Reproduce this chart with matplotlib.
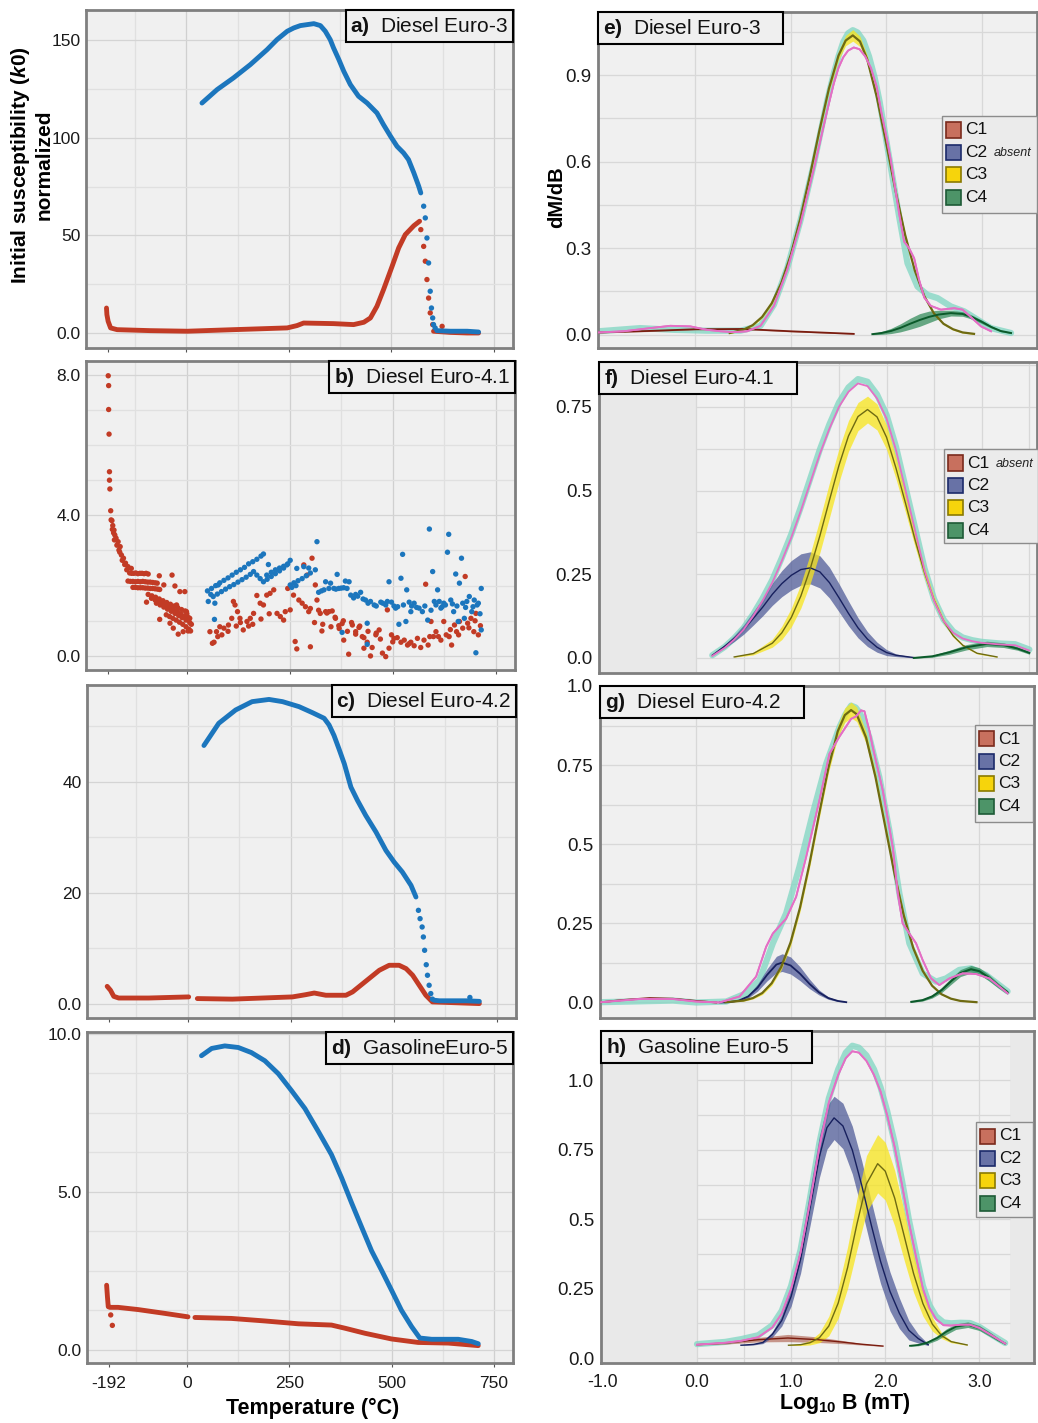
import numpy as np
import matplotlib
matplotlib.use("Agg")
import matplotlib.pyplot as plt
from matplotlib.patches import Rectangle

plt.rcParams['font.family'] = ['Liberation Sans', 'DejaVu Sans']
plt.rcParams['mathtext.fontset'] = 'custom'
plt.rcParams['mathtext.rm'] = 'Liberation Sans'
plt.rcParams['mathtext.it'] = 'Liberation Sans:italic'
plt.rcParams['mathtext.bf'] = 'Liberation Sans:bold'
plt.rcParams['mathtext.bfit'] = 'Liberation Sans:italic:bold'

BLUE = '#1c76bd'
RED = '#c23b25'

# ---------------- left column: k-T curves (temperature in degC, k normalized)
# a) Diesel Euro-3
a_blue_T = [38, 75, 115, 156, 197, 221, 246, 262, 278, 311, 327, 339, 351, 359, 372, 384, 400, 420, 441, 465, 481, 498, 514, 530, 542, 555, 567, 572]
a_blue_k = [117.9, 124.8, 130.8, 137.6, 145.3, 150.4, 154.7, 156.4, 157.6, 158.6, 157.6, 154.7, 150.4, 146.2, 140.2, 134.2, 127.4, 121.4, 117.9, 112.8, 106.8, 100.9, 95.7, 92.3, 88.9, 82.1, 75.2, 71.8]
a_blue_drop_T = [579, 583, 587, 591, 595, 598, 601, 603, 607]
a_blue_drop_k = [65.0, 59.0, 48.7, 35.9, 21.4, 12.8, 7.7, 4.3, 2.6]
a_blue_end_T = [611, 644, 685, 713]
a_blue_end_k = [1.2, 0.9, 0.9, 0.5]
a_red_T = [-195, -194, -191, -185, -169, -88, 2, 115, 246, 270, 286, 359, 408, 433, 449, 465, 481, 502, 518, 534, 555, 569]
a_red_k = [12.8, 9.4, 6.0, 2.6, 1.7, 1.2, 0.9, 1.7, 2.6, 3.8, 5.1, 4.8, 4.3, 5.5, 7.7, 13.7, 22.2, 34.2, 43.6, 50.4, 55.0, 57.3]
a_red_drop_T = [572, 579, 583, 587, 591, 595, 601, 624]
a_red_drop_k = [53.0, 44.4, 36.8, 27.4, 17.9, 10.3, 4.3, 3.4]
a_red_end_T = [603, 644, 685, 713]
a_red_end_k = [0.9, 0.3, 0.0, 0.0]

# b) Diesel Euro-4.1 (noisy)
b_red_T = [-191, -190, -190, -189, -188, -188, -187, -185,
           -184, -182, -181, -180, -178, -177, -176, -175, -172, -170, -167, -165, -163, -162, -159, -157, -154, -151, -149, -146, -143, -135,
           -139, -134, -129, -124, -119, -114, -109, -104, -99, -94,
           -143, -137, -131, -125, -119, -113, -107, -101, -95, -89, -83, -77, -72,
           -131, -125, -119, -113, -107, -101, -95, -89, -83, -77, -71, -66,
           -94, -85, -76, -67, -58, -49, -40, -31, -22, -13, -4, -1,
           -86, -77, -68, -59, -50, -41, -32, -23, -14, -5, 4, 7,
           -74, -65, -56, -47, -38, -29, -20, -11, -2, 7, 11,
           -50, -42, -34, -26, -18, -10, -2, 5, 9,
           -98, -67, -56, -36, -29, -66, -41, -33, -21, -9, -5, -17, 3, -12, 0, -25,
           56, 62, 66, 72, 80, 90, 101, 109, 117, 113, 123, 129, 137, 146, 154, 162, 170, 178, 186, 194, 202, 211, 219, 227, 235, 239, 245, 251,
           259, 263, 267, 272, 280, 284, 292, 296, 300, 304, 312, 316, 324, 328, 337, 345, 353, 361, 369, 377, 381, 393, 402, 410, 418, 426, 430,
           438, 446, 450, 459, 467, 475, 483, 487, 491, 497, 503, 511, 520, 528, 536, 544, 552, 560, 568, 576, 580, 586, 593, 599, 605, 611, 617,
           624, 630, 637, 643, 650, 655, 662, 670, 676, 682, 690, 697, 702, 708, 713,
           288, 300, 320, 340, 360, 380, 400, 420, 440, 460, 310, 330, 350, 370, 390, 410, 430, 470, 500, 540, 590, 640, 660, 685, 700,
           75, 85, 100, 120, 130, 150, 160, 180, 200]
b_red_k = [7.97, 7.69, 7.01, 6.31, 5.24, 5.0, 4.75, 4.13,
           3.87, 3.85, 3.6, 3.71, 3.5, 3.58, 3.3, 3.44, 3.35, 3.15, 3.25, 3.01, 2.95, 3.11, 2.87, 2.72, 2.78, 2.6, 2.64, 2.45, 2.54, 2.49,
           2.36, 2.35, 2.35, 2.36, 2.34, 2.35, 2.35, 2.34, 2.35, 2.33,
           2.13, 2.12, 2.12, 2.11, 2.12, 2.11, 2.12, 2.11, 2.10, 2.10, 2.09, 2.08, 2.07,
           1.95, 1.95, 1.94, 1.94, 1.94, 1.93, 1.93, 1.92, 1.92, 1.91, 1.90, 1.89,
           1.75, 1.71, 1.67, 1.62, 1.57, 1.52, 1.47, 1.42, 1.37, 1.32, 1.28, 1.26,
           1.64, 1.59, 1.54, 1.48, 1.43, 1.37, 1.31, 1.25, 1.19, 1.13, 1.09, 1.07,
           1.50, 1.45, 1.39, 1.33, 1.27, 1.21, 1.15, 1.09, 1.02, 0.95, 0.90,
           1.17, 1.12, 1.07, 1.02, 0.96, 0.90, 0.83, 0.76, 0.71,
           1.53, 2.28, 2.02, 2.30, 1.99, 1.04, 0.93, 0.79, 0.62, 0.69, 1.83, 1.83, 0.71, 1.10, 1.20, 1.45,
           0.69, 0.36, 0.39, 0.69, 0.83, 0.79, 0.88, 1.07, 1.45, 1.55, 1.26, 1.07, 0.74, 0.98, 1.07, 1.21, 1.72, 1.50, 1.45, 1.73, 1.78, 1.88, 1.21, 1.12, 1.02, 1.26, 1.92, 1.31,
           1.73, 0.41, 0.20, 1.59, 1.50, 2.59, 2.30, 1.26, 0.26, 2.78, 2.02, 1.59, 1.21, 0.71, 1.26, 1.26, 1.28, 1.07, 0.86, 0.92, 0.45, 0.05, 0.88, 0.69, 0.81, 0.55, 0.22,
           0.39, 0.00, 0.24, 0.60, 0.74, 0.08, -0.02, 1.31, 0.22, 0.60, 0.50, 0.52, 0.39, 0.45, 0.31, 0.39, 0.29, 0.50, 0.24, 0.45, 2.04, 0.31, 0.98, 0.55, 0.69, 0.55, 0.45,
           0.98, 0.60, 0.55, 0.31, 0.88, 0.69, 0.98, 0.79, 2.26, 0.93, 1.07, 0.69, 1.21, 0.60, 0.86,
           1.40, 1.35, 1.30, 1.22, 1.10, 1.00, 0.95, 0.85, 0.70, 0.65, 0.95, 0.90, 0.83, 0.78, 0.70, 0.62, 0.52, 0.48, 0.40, 0.35, 0.55, 0.75, 0.60, 0.80, 1.00,
           0.55, 0.60, 0.70, 0.85, 0.95, 0.85, 0.90, 1.05, 1.20]
b_blue_T = [50, 60, 70, 80, 90, 100, 110, 120, 130, 140, 150, 160, 170, 180, 186,
            64, 74, 84, 94, 104, 114, 124, 134, 144, 154, 162,
            52, 68, 67, 76, 58,
            186, 195, 205, 215, 225, 235, 245, 251, 194, 205, 215, 225, 235, 243, 198, 178, 170,
            251, 260, 270, 280, 290, 300, 312, 267, 284, 296, 255, 265,
            316,
            320, 333, 345, 357, 369, 381, 389, 394, 337, 349, 365, 385, 327, 362, 375,
            398, 410, 422, 434, 446, 455, 471, 483, 491, 497, 507, 515, 520, 524, 532, 534, 540, 552, 564, 572, 585, 589, 597, 601, 609, 617,
            624, 633, 636, 641, 648, 653, 659, 662, 667, 674, 680, 686, 692, 698, 702, 708, 715, 715, 438, 438, 377, 487, 544,
            405, 415, 428, 440, 460, 476, 503, 512, 526, 546, 558, 578, 593, 605, 613, 620, 628, 645, 656, 670, 677, 695, 705, 712]
b_blue_k = [1.85, 1.92, 2.00, 2.08, 2.15, 2.22, 2.30, 2.38, 2.45, 2.52, 2.62, 2.68, 2.75, 2.84, 2.90,
            1.69, 1.76, 1.83, 1.90, 1.97, 2.03, 2.10, 2.17, 2.24, 2.32, 2.40,
            1.55, 1.50, 1.04, 2.02, 1.75,
            2.11, 2.18, 2.26, 2.34, 2.42, 2.50, 2.62, 2.72, 2.30, 2.38, 2.45, 2.50, 2.55, 2.59, 2.60, 2.20, 2.30,
            2.02, 2.08, 2.14, 2.20, 2.28, 2.36, 2.45, 2.49, 2.54, 2.50, 1.95, 2.00,
            3.25,
            1.81, 1.88, 1.92, 1.92, 1.92, 1.94, 1.92, 2.11, 2.11, 2.07, 2.32, 2.13, 1.85, 1.90, 1.93,
            1.73, 1.75, 1.81, 1.59, 1.55, 1.45, 1.53, 1.45, 2.11, 1.53, 1.36, 0.90, 2.21, 2.89, 0.98, 1.88, 1.53, 1.50, 1.36, 1.26, 1.02, 3.61, 2.40, 1.55, 1.88, 1.36,
            1.50, 2.95, 3.46, 1.59, 1.26, 2.33, 0.98, 2.07, 2.78, 1.07, 1.55, 1.69, 1.26, 1.59, 0.09, 1.50, 1.92, 0.74, 0.93, 0.33, 0.67, 1.55, 1.26,
            1.65, 1.70, 1.62, 1.50, 1.42, 1.50, 1.42, 1.40, 1.45, 1.42, 1.38, 1.42, 1.30, 1.45, 1.55, 1.40, 1.45, 1.48, 1.42, 1.50, 1.38, 1.40, 1.45, 1.20]

# c) Diesel Euro-4.2
c_blue_T = [39, 75, 116, 156, 197, 230, 270, 303, 331, 343, 355, 367, 380, 396, 412, 432, 457, 481, 501, 521, 542, 554]
c_blue_k = [46.5, 50.5, 52.9, 54.4, 54.8, 54.4, 53.5, 52.4, 51.4, 50.2, 48.3, 45.9, 43.2, 39.0, 36.6, 33.9, 30.9, 27.6, 25.5, 23.7, 21.3, 19.2]
c_blue_drop_T = [560, 564, 569, 572, 575, 579, 582, 586, 590, 594, 685]
c_blue_drop_k = [16.8, 15.3, 13.8, 12.0, 9.6, 7.0, 5.1, 3.3, 1.8, 0.8, 1.1]
c_blue_end_T = [598, 611, 640, 676, 708]
c_blue_end_k = [0.6, 0.5, 0.5, 0.5, 0.4]
c_red_cold_T = [-196, -188, -180, -168, -95, 2]
c_red_cold_k = [3.1, 2.4, 1.3, 1.0, 1.0, 1.2]
c_red_T = [23, 108, 254, 286, 307, 335, 384, 400, 420, 440, 465, 489, 513, 530, 546, 562, 578, 594, 708]
c_red_k = [0.9, 0.8, 1.2, 1.6, 1.9, 1.5, 1.5, 2.1, 3.3, 4.5, 6.0, 6.9, 6.9, 6.3, 5.1, 3.3, 1.5, 0.3, 0.0]

# d) Gasoline Euro-5
d_blue_T = [35, 60, 92, 125, 157, 190, 223, 255, 288, 321, 353, 378, 402, 427, 451, 476, 500, 524, 549, 569, 598, 663, 696, 712]
d_blue_k = [9.30, 9.53, 9.61, 9.56, 9.40, 9.14, 8.73, 8.20, 7.63, 6.90, 6.17, 5.43, 4.65, 3.87, 3.13, 2.50, 1.88, 1.25, 0.73, 0.37, 0.33, 0.33, 0.26, 0.19]
d_red_cold_T = [-197, -195, -193, -189, -169, -120, -55, 2]
d_red_cold_k = [2.04, 1.67, 1.36, 1.34, 1.34, 1.27, 1.15, 1.04]
d_red_pts_T = [-187, -183]
d_red_pts_k = [1.10, 0.77]
d_red_T = [19, 108, 190, 272, 353, 386, 435, 500, 565, 639, 712]
d_red_k = [1.02, 0.99, 0.91, 0.82, 0.78, 0.68, 0.52, 0.34, 0.23, 0.21, 0.13]

# ---------------- right column: coercivity unmixing (log10 B in mT vs dM/dB)
COMP_NAMES = ['C1', 'C2', 'C3', 'C4']
COMP_FILL = ['#a34a35', '#4b5796', '#f8e51c', '#2f8a58']
COMP_LINE = ['#7a1c0f', '#17205e', '#6e6a12', '#0b5a2a']
COMP_ALPHA = [0.55, 0.72, 0.75, 0.72]
LEG_FILL = ['#c8705e', '#6872a6', '#f6d40c', '#4d9468']
LEG_EDGE = ['#7a2a1c', '#1c2a6a', '#8a7a00', '#1d5a36']

# e) Diesel Euro-3
e_teal_B = [-1.015, -0.578, -0.228, 0.123, 0.473, 0.683, 0.823, 0.963, 1.103, 1.243, 1.383, 1.45, 1.5, 1.55, 1.6, 1.65, 1.7, 1.76, 1.82, 1.88, 1.93, 2.03, 2.135, 2.223, 2.328, 2.433, 2.538, 2.678, 2.818, 2.958, 3.098, 3.308]
e_teal_y = [0.012, 0.023, 0.017, 0.014, 0.014, 0.031, 0.104, 0.231, 0.398, 0.594, 0.813, 0.905, 0.965, 1.015, 1.045, 1.056, 1.048, 1.02, 0.965, 0.89, 0.81, 0.617, 0.41, 0.248, 0.167, 0.138, 0.127, 0.098, 0.081, 0.052, 0.023, 0.006]
e_pink_B = [-1.015, -0.753, -0.473, -0.263, -0.053, 0.123, 0.263, 0.403, 0.543, 0.683, 0.823, 0.963, 1.103, 1.243, 1.383, 1.45, 1.5, 1.55, 1.6, 1.66, 1.72, 1.78, 1.84, 1.9, 1.95, 2.0, 2.048, 2.135, 2.188, 2.24, 2.293, 2.345, 2.398, 2.468, 2.573, 2.713, 2.8, 2.888, 2.993, 3.098]
e_pink_y = [0.008, 0.012, 0.023, 0.031, 0.029, 0.017, 0.012, 0.009, 0.012, 0.031, 0.1, 0.225, 0.387, 0.577, 0.779, 0.87, 0.925, 0.962, 0.985, 0.996, 0.99, 0.965, 0.925, 0.86, 0.77, 0.69, 0.606, 0.421, 0.323, 0.3, 0.265, 0.19, 0.129, 0.1, 0.087, 0.092, 0.087, 0.061, 0.029, 0.012]
e_c1_B = [-1.01, -0.5, 0.0, 0.5, 1.0, 1.66]
e_c1_y = [0.008, 0.013, 0.019, 0.020, 0.012, 0.003]
e_c1_hw = [0.002, 0.002, 0.002, 0.002, 0.002, 0.001]
e_c3_B = [0.36, 0.5, 0.6, 0.7, 0.8, 0.9, 1.0, 1.1, 1.2, 1.3, 1.4, 1.5, 1.575, 1.65, 1.725, 1.8, 1.9, 2.0, 2.1, 2.2, 2.3, 2.4, 2.5, 2.6, 2.7, 2.8, 2.92]
e_c3_y = [0.006, 0.017, 0.033, 0.062, 0.109, 0.179, 0.277, 0.403, 0.551, 0.708, 0.854, 0.968, 1.020, 1.038, 1.017, 0.956, 0.826, 0.664, 0.495, 0.344, 0.222, 0.133, 0.074, 0.038, 0.019, 0.008, 0.003]
e_c3_hw = [0.002, 0.003, 0.003, 0.004, 0.005, 0.006, 0.006, 0.006, 0.007, 0.008, 0.010, 0.014, 0.018, 0.020, 0.018, 0.013, 0.009, 0.007, 0.006, 0.006, 0.005, 0.005, 0.004, 0.003, 0.003, 0.002, 0.002]
e_c4_B = [1.855, 1.95, 2.05, 2.15, 2.25, 2.35, 2.45, 2.55, 2.678, 2.8, 2.9, 3.0, 3.1, 3.2, 3.308]
e_c4_y = [0.002, 0.006, 0.013, 0.024, 0.038, 0.051, 0.062, 0.070, 0.075, 0.072, 0.061, 0.045, 0.027, 0.013, 0.006]
e_c4_hw = [0.002, 0.005, 0.009, 0.014, 0.019, 0.022, 0.020, 0.015, 0.010, 0.008, 0.007, 0.006, 0.004, 0.003, 0.002]

# f) Diesel Euro-4.1
f_teal_B = [0.17, 0.3, 0.4, 0.5, 0.6, 0.7, 0.8, 0.9, 1.0, 1.1, 1.2, 1.3, 1.4, 1.5, 1.6, 1.7, 1.8, 1.9, 2.0, 2.1, 2.2, 2.3, 2.4, 2.5, 2.6, 2.7, 2.8, 2.9, 3.0, 3.2, 3.35, 3.5]
f_teal_y = [0.008, 0.033, 0.059, 0.09, 0.131, 0.179, 0.233, 0.299, 0.37, 0.451, 0.537, 0.623, 0.698, 0.763, 0.808, 0.833, 0.825, 0.787, 0.726, 0.63, 0.509, 0.388, 0.266, 0.175, 0.114, 0.079, 0.061, 0.053, 0.048, 0.043, 0.041, 0.025]
f_pink_B = f_teal_B
f_pink_y = [0.006, 0.03, 0.055, 0.085, 0.125, 0.172, 0.225, 0.29, 0.36, 0.44, 0.525, 0.61, 0.685, 0.75, 0.795, 0.82, 0.812, 0.775, 0.715, 0.62, 0.5, 0.38, 0.26, 0.17, 0.11, 0.075, 0.058, 0.05, 0.045, 0.04, 0.038, 0.022]
f_c2_B = [0.17, 0.3, 0.4, 0.5, 0.6, 0.7, 0.8, 0.9, 1.0, 1.1, 1.2, 1.3, 1.4, 1.5, 1.6, 1.7, 1.8, 1.9, 2.0, 2.1, 2.29]
f_c2_y = [0.008, 0.035, 0.058, 0.085, 0.118, 0.152, 0.19, 0.222, 0.247, 0.264, 0.269, 0.257, 0.225, 0.18, 0.133, 0.09, 0.056, 0.032, 0.016, 0.008, 0.001]
f_c2_hw = [0.001, 0.005, 0.009, 0.014, 0.02, 0.026, 0.033, 0.039, 0.044, 0.047, 0.048, 0.048, 0.046, 0.042, 0.037, 0.03, 0.022, 0.015, 0.009, 0.004, 0.001]
f_c3_B = [0.4, 0.6, 0.8, 0.9, 1.0, 1.1, 1.2, 1.3, 1.4, 1.5, 1.6, 1.7, 1.8, 1.9, 2.0, 2.1, 2.2, 2.3, 2.4, 2.5, 2.6, 2.7, 2.8, 2.95, 3.16]
f_c3_y = [0.003, 0.013, 0.044, 0.075, 0.121, 0.185, 0.268, 0.365, 0.471, 0.575, 0.663, 0.721, 0.742, 0.720, 0.659, 0.566, 0.461, 0.352, 0.254, 0.172, 0.110, 0.066, 0.038, 0.014, 0.003]
f_c3_hw = [0.001, 0.004, 0.012, 0.020, 0.028, 0.036, 0.044, 0.050, 0.052, 0.050, 0.046, 0.042, 0.040, 0.039, 0.036, 0.032, 0.027, 0.021, 0.016, 0.011, 0.007, 0.004, 0.003, 0.002, 0.001]
f_c4_B = [2.286, 2.482, 2.661, 2.839, 3.054, 3.232, 3.375, 3.5]
f_c4_y = [0.0, 0.005, 0.017, 0.032, 0.042, 0.038, 0.028, 0.015]
f_c4_hw = [0.001, 0.003, 0.006, 0.008, 0.008, 0.007, 0.005, 0.004]

# g) Diesel Euro-4.2
g_teal_B = [-1.006, -0.247, 0.0, 0.318, 0.529, 0.671, 0.812, 0.953, 1.094, 1.235, 1.377, 1.518, 1.58, 1.641, 1.69, 1.73, 1.78, 1.835, 1.941, 2.047, 2.153, 2.259, 2.400, 2.541, 2.647, 2.788, 2.912, 3.071, 3.300]
g_teal_y = [0.001, 0.006, 0.0, 0.003, 0.029, 0.071, 0.187, 0.282, 0.429, 0.597, 0.754, 0.870, 0.910, 0.938, 0.932, 0.917, 0.885, 0.838, 0.712, 0.544, 0.345, 0.187, 0.092, 0.066, 0.076, 0.103, 0.108, 0.087, 0.035]
g_pink_B = [-1.006, -0.600, -0.247, 0.0, 0.247, 0.459, 0.635, 0.741, 0.812, 0.953, 1.059, 1.165, 1.306, 1.412, 1.518, 1.641, 1.694, 1.747, 1.783, 1.835, 1.871, 1.977, 2.083, 2.136, 2.188, 2.259, 2.330, 2.400, 2.489, 2.577, 2.683, 2.824, 2.965, 3.106, 3.300]
g_pink_y = [0.001, 0.011, 0.011, 0.003, 0.0, 0.019, 0.082, 0.176, 0.218, 0.265, 0.334, 0.460, 0.639, 0.786, 0.840, 0.896, 0.904, 0.923, 0.920, 0.859, 0.807, 0.670, 0.491, 0.345, 0.250, 0.218, 0.187, 0.134, 0.076, 0.055, 0.076, 0.092, 0.090, 0.076, 0.029]
g_c1_B = [-1.006, -0.777, -0.494, -0.247, 0.0, 0.212]
g_c1_y = [0.001, 0.008, 0.014, 0.012, 0.005, 0.0]
g_c1_hw = [0.001, 0.001, 0.001, 0.001, 0.001, 0.001]
g_c2_B = [0.25, 0.35, 0.45, 0.55, 0.65, 0.75, 0.85, 0.911, 1.0, 1.1, 1.2, 1.3, 1.4, 1.5, 1.59]
g_c2_y = [0.0, 0.001, 0.006, 0.019, 0.047, 0.087, 0.12, 0.126, 0.117, 0.091, 0.059, 0.032, 0.014, 0.005, 0.001]
g_c2_hw = [0.0005, 0.001, 0.002, 0.005, 0.011, 0.019, 0.026, 0.028, 0.027, 0.022, 0.015, 0.008, 0.004, 0.002, 0.0005]
g_c3_B = [0.31, 0.5, 0.6, 0.7, 0.8, 0.9, 1.0, 1.1, 1.2, 1.3, 1.4, 1.5, 1.575, 1.641, 1.7, 1.8, 1.9, 2.0, 2.1, 2.2, 2.3, 2.4, 2.5, 2.6, 2.7, 2.8, 2.97]
g_c3_y = [0.001, 0.006, 0.014, 0.030, 0.061, 0.112, 0.190, 0.300, 0.438, 0.592, 0.740, 0.857, 0.908, 0.924, 0.911, 0.837, 0.712, 0.561, 0.409, 0.275, 0.172, 0.100, 0.053, 0.026, 0.012, 0.005, 0.001]
g_c3_hw = [0.001, 0.002, 0.003, 0.005, 0.007, 0.009, 0.011, 0.013, 0.014, 0.015, 0.016, 0.019, 0.023, 0.025, 0.023, 0.018, 0.015, 0.013, 0.011, 0.009, 0.007, 0.005, 0.003, 0.002, 0.001, 0.001, 0.001]
g_c4_B = [2.28, 2.4, 2.5, 2.6, 2.7, 2.8, 2.912, 3.0, 3.1, 3.2, 3.3]
g_c4_y = [0.002, 0.0075, 0.019, 0.039, 0.067, 0.093, 0.105, 0.099, 0.079, 0.054, 0.032]
g_c4_hw = [0.001, 0.003, 0.005, 0.008, 0.010, 0.011, 0.012, 0.011, 0.010, 0.008, 0.006]

# h) Gasoline Euro-5
h_teal_B = [0.0, 0.3, 0.47, 0.65, 0.8, 0.9, 1.0, 1.1, 1.2, 1.3, 1.4, 1.5, 1.58, 1.65, 1.72, 1.8, 1.88, 1.95, 2.02, 2.1, 2.18, 2.25, 2.33, 2.4, 2.47, 2.54, 2.62, 2.7, 2.8, 2.9, 3.0, 3.1, 3.274]
h_teal_y = [0.05, 0.058, 0.068, 0.082, 0.118, 0.17, 0.26, 0.39, 0.575, 0.775, 0.935, 1.04, 1.1, 1.125, 1.118, 1.09, 1.04, 0.975, 0.89, 0.775, 0.635, 0.5, 0.37, 0.26, 0.19, 0.15, 0.128, 0.125, 0.127, 0.126, 0.112, 0.09, 0.054]
h_pink_B = h_teal_B
h_pink_y = [0.048, 0.055, 0.062, 0.075, 0.11, 0.16, 0.25, 0.38, 0.56, 0.76, 0.92, 1.02, 1.08, 1.105, 1.1, 1.07, 1.02, 0.96, 0.875, 0.76, 0.62, 0.49, 0.36, 0.25, 0.18, 0.14, 0.118, 0.117, 0.12, 0.12, 0.108, 0.088, 0.052]
h_c1_B = [0.0, 0.298, 0.649, 0.965, 1.281, 1.526, 1.737, 1.975]
h_c1_y = [0.048, 0.054, 0.066, 0.072, 0.066, 0.058, 0.050, 0.043]
h_c1_hw = [0.001, 0.004, 0.008, 0.013, 0.010, 0.006, 0.003, 0.001]
h_c2_B = [0.467, 0.6, 0.7, 0.8, 0.9, 1.0, 1.1, 1.2, 1.3, 1.38, 1.456, 1.55, 1.65, 1.75, 1.85, 1.95, 2.05, 2.15, 2.25, 2.35, 2.456]
h_c2_y = [0.046, 0.049, 0.056, 0.085, 0.135, 0.222, 0.355, 0.541, 0.725, 0.83, 0.865, 0.836, 0.749, 0.622, 0.481, 0.348, 0.24, 0.161, 0.1, 0.07, 0.048]
h_c2_hw = [0.001, 0.002, 0.004, 0.010, 0.020, 0.035, 0.050, 0.065, 0.075, 0.078, 0.078, 0.082, 0.086, 0.088, 0.086, 0.080, 0.070, 0.055, 0.035, 0.016, 0.003]
h_c3_B = [0.972, 1.1, 1.2, 1.3, 1.4, 1.5, 1.6, 1.7, 1.8, 1.919, 2.0, 2.1, 2.2, 2.3, 2.4, 2.5, 2.6, 2.7, 2.87]
h_c3_y = [0.046, 0.048, 0.055, 0.073, 0.115, 0.198, 0.326, 0.484, 0.627, 0.70, 0.673, 0.576, 0.441, 0.305, 0.196, 0.122, 0.08, 0.059, 0.047]
h_c3_hw = [0.001, 0.003, 0.008, 0.018, 0.035, 0.055, 0.075, 0.092, 0.102, 0.105, 0.104, 0.100, 0.088, 0.068, 0.045, 0.025, 0.010, 0.004, 0.001]
h_c4_B = [2.263, 2.35, 2.45, 2.55, 2.65, 2.75, 2.877, 3.0, 3.1, 3.2, 3.274]
h_c4_y = [0.044, 0.047, 0.056, 0.072, 0.095, 0.113, 0.12, 0.108, 0.088, 0.066, 0.052]
h_c4_hw = [0.002, 0.003, 0.005, 0.008, 0.010, 0.010, 0.010, 0.009, 0.008, 0.006, 0.004]

W, H = 1038, 1423
fig = plt.figure(figsize=(W / 100, H / 100), dpi=100)
fig.patch.set_facecolor('white')


def px_axes(x0, y0, x1, y1):
    return fig.add_axes([x0 / W, 1 - y1 / H, (x1 - x0) / W, (y1 - y0) / H])


def frame(ax):
    for s in ax.spines.values():
        s.set_color('#7f7f7f')
        s.set_linewidth(2.0)


def tag(ax, letter, name, right=True):
    txt = r'$\mathbf{' + letter + ')}$  ' + name
    if right:
        xy, off, ha = (1, 1), (-3.5, -3.5), 'right'
    else:
        txt = txt + '    '
        xy, off, ha = (0, 1), (3.5, -3.5), 'left'
    ax.annotate(txt, xy=xy, xycoords='axes fraction', xytext=off, textcoords='offset points',
                ha=ha, va='top', fontsize=15, color='#111111', zorder=10,
                bbox=dict(boxstyle='square,pad=0.22', fc='#efefef', ec='black', lw=1.5))


T_LIM = (-245, 797)


def left_panel(box, ylim, grid_major, grid_minor, ticklabels, show_x):
    ax = px_axes(*box)
    ax.set_facecolor('#f0f0f0')
    ax.set_xlim(*T_LIM)
    ax.set_ylim(*ylim)
    for t in range(-125, 751, 125):
        ax.axvline(t, color='#d0d0d0' if t % 250 == 0 else '#e0e0e0', lw=0.9, zorder=0)
    for g in grid_minor:
        ax.axhline(g, color='#e0e0e0', lw=0.9, zorder=0)
    for g in grid_major:
        ax.axhline(g, color='#d4d4d4', lw=0.9, zorder=0)
    ax.set_yticks(grid_major)
    ax.set_yticklabels(ticklabels)
    ax.set_xticks([-192, 0, 250, 500, 750])
    if show_x:
        ax.set_xticklabels(['-192', '0', '250', '500', '750'])
    else:
        ax.set_xticklabels([])
    ax.tick_params(axis='y', length=0, pad=4, labelsize=12.5, labelcolor='#1a1a1a')
    ax.tick_params(axis='x', length=3, width=0.8, color='#555555', pad=6, labelsize=12.5, labelcolor='#1a1a1a')
    frame(ax)
    return ax


def dense(ax, t, k, c):
    ax.plot(t, k, color=c, lw=3.5, solid_capstyle='round', solid_joinstyle='round', zorder=3)


def dots(ax, t, k, c):
    ax.scatter(t, k, s=15, color=c, edgecolors='none', zorder=3)


# a
ax = left_panel((86, 10, 513, 348), (-7.7, 165.6), [0, 50, 100, 150], [25, 75, 125], ['0.0', '50', '100', '150'], False)
dense(ax, a_red_T, a_red_k, RED)
dots(ax, a_red_drop_T, a_red_drop_k, RED)
dense(ax, a_red_end_T, a_red_end_k, RED)
dense(ax, a_blue_T, a_blue_k, BLUE)
dots(ax, a_blue_drop_T, a_blue_drop_k, BLUE)
dense(ax, a_blue_end_T, a_blue_end_k, BLUE)
tag(ax, 'a', 'Diesel Euro-3')

# b
ax = left_panel((86, 361, 515, 670), (-0.4, 8.39), [0, 4, 8], [1, 2, 3, 5, 6, 7], ['0.0', '4.0', '8.0'], False)
dots(ax, b_red_T, b_red_k, RED)
dots(ax, b_blue_T, b_blue_k, BLUE)
tag(ax, 'b', 'Diesel Euro-4.1')

# c
ax = left_panel((87, 685, 516, 1018), (-2.6, 57.4), [0, 20, 40], [10, 30, 50], ['0.0', '20', '40'], False)
dense(ax, c_red_cold_T, c_red_cold_k, RED)
dense(ax, c_red_T, c_red_k, RED)
dense(ax, c_blue_T, c_blue_k, BLUE)
dots(ax, c_blue_drop_T, c_blue_drop_k, BLUE)
dense(ax, c_blue_end_T, c_blue_end_k, BLUE)
tag(ax, 'c', 'Diesel Euro-4.2')

# d
ax = left_panel((87, 1032, 513, 1363), (-0.42, 10.05), [0, 5, 10], [1.25, 2.5, 3.75, 6.25, 7.5, 8.75], ['0.0', '5.0', '10.0'], True)
dense(ax, d_red_cold_T, d_red_cold_k, RED)
dots(ax, d_red_pts_T, d_red_pts_k, RED)
dense(ax, d_red_T, d_red_k, RED)
dense(ax, d_blue_T, d_blue_k, BLUE)
tag(ax, 'd', 'GasolineEuro-5')

B_LIM = (-1.02, 3.58)


def right_panel(box, ylim, yticks, ylabels, hgrid, vgrid, light=None, show_x=False):
    ax = px_axes(*box)
    ax.set_xlim(*B_LIM)
    ax.set_ylim(*ylim)
    if light is None:
        ax.set_facecolor('#f0f0f0')
        x0, x1 = B_LIM
    else:
        ax.set_facecolor('#e9e9e9')
        ax.axvspan(light[0], light[1], color='#f1f1f1', lw=0, zorder=0)
        x0, x1 = light
    for g in hgrid:
        ax.hlines(g, x0, x1, color='#d8d8d8', lw=0.9, zorder=0.5)
    for v in vgrid:
        ax.axvline(v, color='#d8d8d8', lw=0.9, zorder=0.5)
    ax.set_yticks(yticks)
    ax.set_yticklabels(ylabels)
    ax.set_xticks([-1, 0, 1, 2, 3])
    if show_x:
        ax.set_xticklabels(['-1.0', '0.0', '1.0', '2.0', '3.0'])
        ax.tick_params(axis='x', length=0, pad=8, labelsize=12.8, labelcolor='#1a1a1a')
    else:
        ax.set_xticklabels([])
        ax.tick_params(axis='x', length=0)
    ax.tick_params(axis='y', length=0, pad=5, labelsize=13.5, labelcolor='#1a1a1a')
    frame(ax)
    return ax


def comp(ax, i, b, y, hw, lw=1.0):
    b = np.asarray(b)
    y = np.asarray(y)
    hw = np.asarray(hw)
    ax.fill_between(b, y - hw, y + hw, color=COMP_FILL[i], alpha=COMP_ALPHA[i], lw=0, zorder=3)
    ax.plot(b, y, color=COMP_LINE[i], lw=lw, zorder=4)


def envelope(ax, tb, ty, pb, py):
    ax.plot(tb, ty, color='#7fd6c2', lw=4.5, alpha=0.75, solid_capstyle='round', zorder=2)
    ax.plot(pb, py, color='#e46fc5', lw=1.3, zorder=5)


def legend_box(left, top, right, bottom, absent=None):
    fx = lambda p: p / W
    fy = lambda p: 1 - p / H
    fig.add_artist(Rectangle((fx(left), fy(bottom)), (right - left) / W, (bottom - top) / H,
                             transform=fig.transFigure, fc='#ebebeb', ec='#8c8c8c', lw=1.0, zorder=20))
    for i, name in enumerate(COMP_NAMES):
        cy = top + 14 + 22.4 * i
        fig.add_artist(Rectangle((fx(left + 4), fy(cy + 7.5)), 15 / W, 15 / H, transform=fig.transFigure,
                                 fc=LEG_FILL[i], ec=LEG_EDGE[i], lw=1.2, zorder=21))
        t = fig.text(fx(left + 23), fy(cy), name, fontsize=12.5, ha='left', va='center', color='#111111')
        t.set_zorder(22)
        if absent == name:
            a = fig.text(fx(left + 52), fy(cy + 1), 'absent', fontsize=9, style='italic', ha='left', va='center', color='#222222')
            a.set_zorder(22)


# e
ax = right_panel((598, 12, 1037, 348), (-0.046, 1.119), [0, 0.3, 0.6, 0.9], ['0.0', '0.3', '0.6', '0.9'],
                 np.arange(0, 1.06, 0.15), [0, 1, 2, 3])
envelope(ax, e_teal_B, e_teal_y, e_pink_B, e_pink_y)
comp(ax, 0, e_c1_B, e_c1_y, e_c1_hw, lw=1.3)
comp(ax, 2, e_c3_B, e_c3_y, e_c3_hw, lw=1.6)
comp(ax, 3, e_c4_B, e_c4_y, e_c4_hw, lw=1.4)
ax.plot(e_pink_B, e_pink_y, color='#e46fc5', lw=1.3, zorder=5)
tag(ax, 'e', 'Diesel Euro-3', right=False)
legend_box(942, 116, 1037, 213, absent='C2')

# f
ax = right_panel((599, 362, 1037, 673), (-0.045, 0.884), [0, 0.25, 0.5, 0.75], ['0.0', '0.25', '0.5', '0.75'],
                 np.arange(0, 0.88, 0.125), np.arange(0, 3.6, 0.5), light=(0.0, 3.58))
envelope(ax, f_teal_B, f_teal_y, f_pink_B, f_pink_y)
comp(ax, 1, f_c2_B, f_c2_y, f_c2_hw)
comp(ax, 2, f_c3_B, f_c3_y, f_c3_hw)
comp(ax, 3, f_c4_B, f_c4_y, f_c4_hw, lw=1.4)
tag(ax, 'f', 'Diesel Euro-4.1', right=False)
legend_box(944, 449, 1038, 543, absent='C1')

# g
ax = right_panel((600, 686, 1034, 1018), (-0.049, 0.998), [0, 0.25, 0.5, 0.75, 1.0], ['0.0', '0.25', '0.5', '0.75', '1.0'],
                 np.arange(0, 1.0, 0.125), [0, 1, 2, 3])
envelope(ax, g_teal_B, g_teal_y, g_pink_B, g_pink_y)
comp(ax, 0, g_c1_B, g_c1_y, g_c1_hw, lw=1.3)
comp(ax, 1, g_c2_B, g_c2_y, g_c2_hw, lw=1.3)
comp(ax, 2, g_c3_B, g_c3_y, g_c3_hw, lw=1.6)
comp(ax, 3, g_c4_B, g_c4_y, g_c4_hw, lw=1.5)
ax.plot(g_pink_B, g_pink_y, color='#e46fc5', lw=1.3, zorder=5)
tag(ax, 'g', 'Diesel Euro-4.2', right=False)
legend_box(975, 725, 1033, 822)

# h
ax = right_panel((601, 1031, 1034, 1363), (-0.018, 1.178), [0, 0.25, 0.5, 0.75, 1.0], ['0.0', '0.25', '0.5', '0.75', '1.0'],
                 np.arange(0, 1.13, 0.125), [0, 0.5, 1, 1.5, 2, 2.5, 3], light=(0.0, 3.33), show_x=True)
envelope(ax, h_teal_B, h_teal_y, h_pink_B, h_pink_y)
comp(ax, 0, h_c1_B, h_c1_y, h_c1_hw)
comp(ax, 1, h_c2_B, h_c2_y, h_c2_hw)
comp(ax, 2, h_c3_B, h_c3_y, h_c3_hw)
comp(ax, 3, h_c4_B, h_c4_y, h_c4_hw, lw=1.3)
ax.plot(h_pink_B, h_pink_y, color='#e46fc5', lw=1.2, zorder=5)
tag(ax, 'h', 'Gasoline Euro-5', right=False)
legend_box(976, 1122, 1033, 1217)

# shared axis titles
fig.text(21 / W, 1 - 165 / H, r'Initial susceptibility ($\mathbfit{k}$0)', rotation=90, fontsize=15,
         fontweight='bold', ha='center', va='center')
fig.text(44 / W, 1 - 165 / H, 'normalized', rotation=90, fontsize=15, fontweight='bold', ha='center', va='center')
fig.text(557 / W, 1 - 197 / H, 'dM/dB', rotation=90, fontsize=14.5, fontweight='bold', ha='center', va='center')
fig.text(313 / W, 1 - 1408 / H, 'Temperature (°C)', fontsize=15.5, fontweight='bold', ha='center', va='center')
fig.text(845 / W, 1 - 1403 / H, r'Log$_{\mathbf{10}}$ B (mT)', fontsize=15.5, fontweight='bold', ha='center', va='center')

fig.savefig('out.png', dpi=100)
